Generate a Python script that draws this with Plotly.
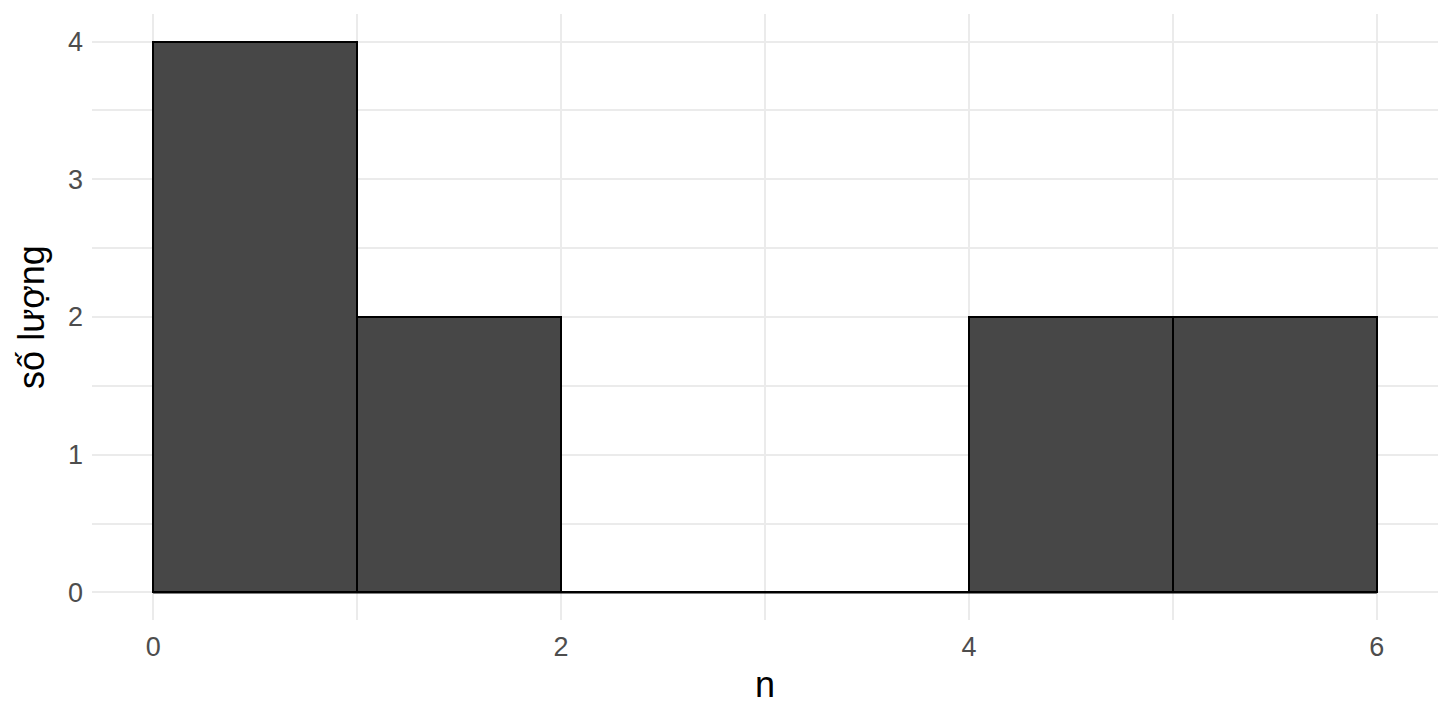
import plotly.graph_objects as go

# histogram bins (binwidth 1) and counts
bin_left = [0, 1, 2, 3, 4, 5]
counts = [4, 2, 0, 0, 2, 2]
x_ticks = [0, 2, 4, 6]
y_ticks = [0, 1, 2, 3, 4]

mids = [b + 0.5 for b in bin_left]

fig = go.Figure()
fig.add_trace(go.Bar(x=mids, y=counts, width=1,
                     marker=dict(color="#474747", line=dict(color="black", width=2)),
                     hoverinfo="skip"))
# empty bins show as a flat outline at 0
edges = bin_left + [bin_left[-1] + 1]
fig.add_trace(go.Scatter(x=[edges[0], edges[-1]], y=[0, 0], mode="lines",
                         line=dict(color="black", width=2), hoverinfo="skip"))

grid = "#EBEBEB"
fig.update_layout(
    width=1456, height=720,
    paper_bgcolor="white", plot_bgcolor="white",
    showlegend=False, bargap=0,
    margin=dict(l=84, r=26, t=6, b=108, autoexpand=False),
    font=dict(family="Liberation Sans, Arial, sans-serif"),
    xaxis=dict(range=[-0.3, 6.3], tickvals=x_ticks, showline=False, zeroline=False,
               gridcolor=grid, gridwidth=2,
               minor=dict(dtick=1, tick0=0, showgrid=True, gridcolor=grid, gridwidth=1.5),
               tickfont=dict(size=27, color="#4D4D4D"), ticklen=0, ticklabelstandoff=8,
               title=dict(text="n", font=dict(size=36, color="black"), standoff=10)),
    yaxis=dict(range=[-0.2, 4.2], tickvals=y_ticks, showline=False, zeroline=False,
               gridcolor=grid, gridwidth=2,
               minor=dict(dtick=0.5, tick0=0, showgrid=True, gridcolor=grid, gridwidth=1.5),
               tickfont=dict(size=27, color="#4D4D4D"), ticklen=0, ticklabelstandoff=8,
               title=dict(text="số lượng", font=dict(size=36, color="black"), standoff=12)),
)

fig.write_html("out.html")
